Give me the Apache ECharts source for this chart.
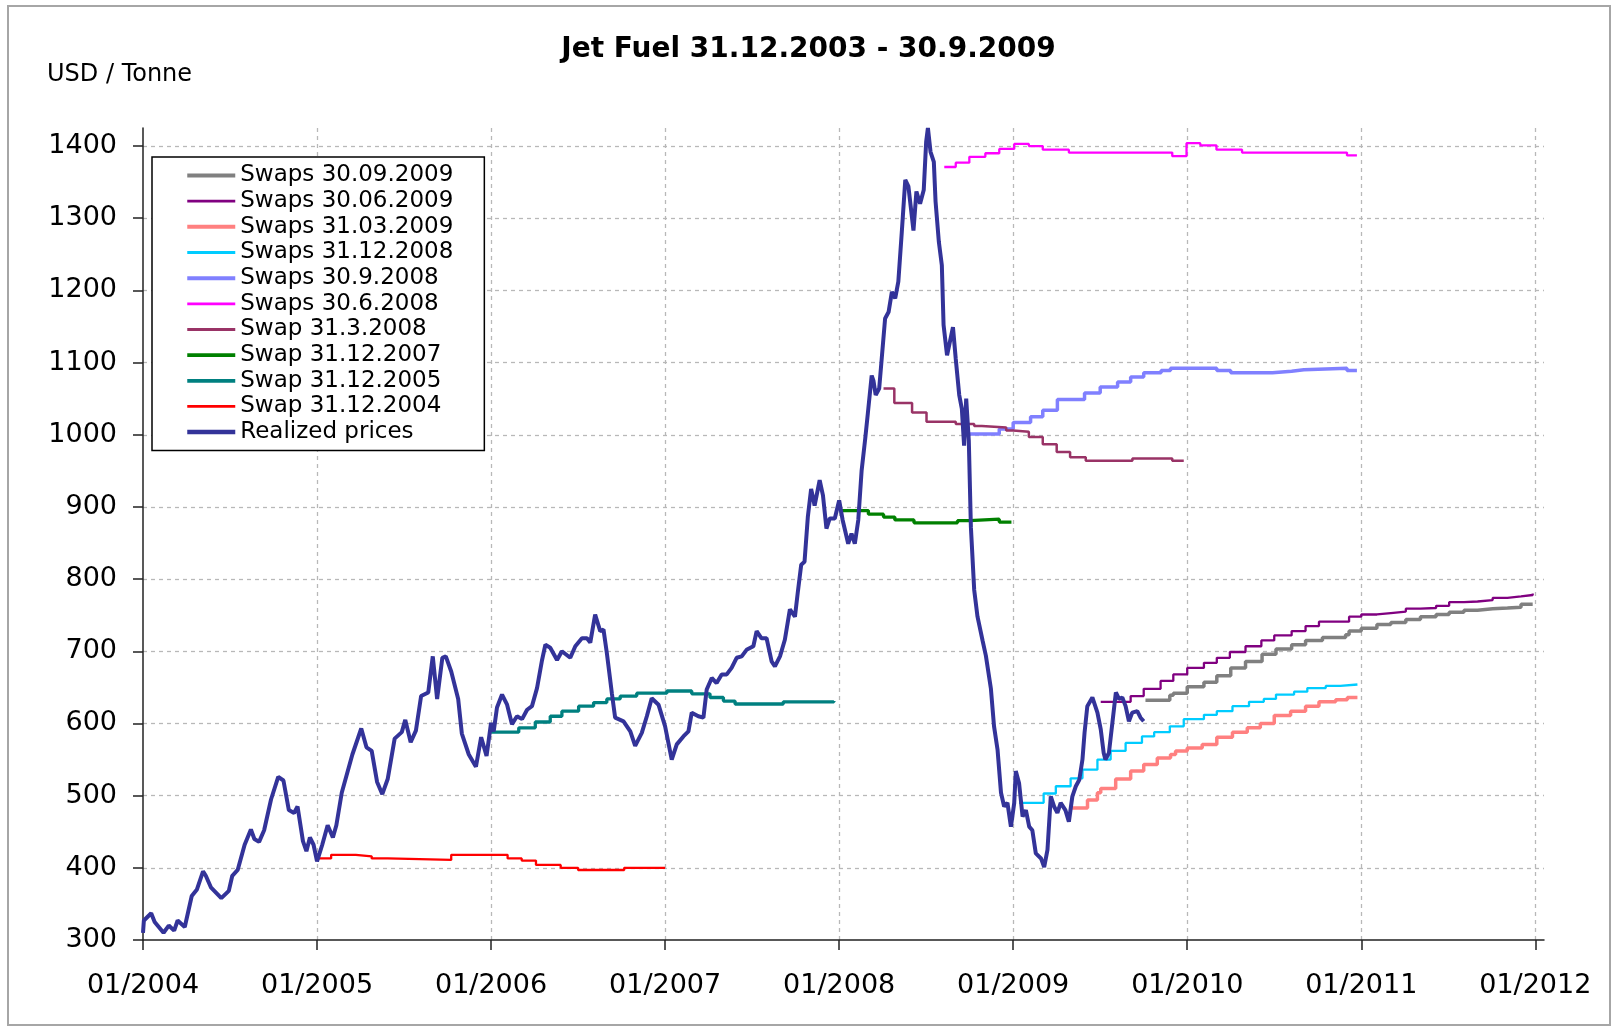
<!DOCTYPE html>
<html>
<head>
<meta charset="utf-8">
<title>Jet Fuel 31.12.2003 - 30.9.2009</title>
<script src="https://cdn.jsdelivr.net/npm/echarts@6.0.0/dist/echarts.min.js"></script>
<style>
  html, body { margin: 0; padding: 0; background: #fff; }
  #chart { width: 1617px; height: 1027px; }
</style>
</head>
<body>
<div id="chart"></div>
<script>
// x values are decimal years (2004.5 = mid 2004), y values USD / tonne
const yearTicks = [2004, 2005, 2006, 2007, 2008, 2009, 2010, 2011, 2012];
const priceTicks = [300, 400, 500, 600, 700, 800, 900, 1000, 1100, 1200, 1300, 1400];

const realizedPrices = [
  [2004.0, 310], [2004.005, 327], [2004.047, 337], [2004.067, 325], [2004.118, 310], [2004.148, 320],
  [2004.179, 313], [2004.199, 327], [2004.24, 318], [2004.28, 361], [2004.31, 370], [2004.345, 395],
  [2004.361, 389], [2004.39, 373], [2004.45, 358], [2004.493, 368], [2004.513, 389], [2004.544, 397],
  [2004.584, 432], [2004.62, 453], [2004.64, 440], [2004.667, 436], [2004.696, 452], [2004.736, 495],
  [2004.777, 526], [2004.807, 521], [2004.838, 480], [2004.868, 476], [2004.888, 485], [2004.919, 437],
  [2004.939, 423], [2004.959, 442], [2004.98, 432], [2005.0, 409], [2005.03, 432], [2005.061, 459],
  [2005.091, 442], [2005.111, 459], [2005.142, 504], [2005.203, 557], [2005.254, 593], [2005.284, 567],
  [2005.314, 562], [2005.345, 519], [2005.375, 502], [2005.406, 523], [2005.446, 579], [2005.487, 588],
  [2005.507, 605], [2005.538, 574], [2005.568, 590], [2005.598, 638], [2005.639, 643], [2005.665, 693],
  [2005.69, 634], [2005.72, 691], [2005.74, 693], [2005.771, 672], [2005.811, 634], [2005.832, 586],
  [2005.872, 557], [2005.913, 540], [2005.943, 581], [2005.974, 555], [2006.0, 601], [2006.015, 589],
  [2006.034, 622], [2006.063, 640], [2006.092, 626], [2006.12, 599], [2006.149, 610], [2006.178, 606],
  [2006.207, 619], [2006.235, 624], [2006.264, 649], [2006.293, 688], [2006.312, 709], [2006.34, 705],
  [2006.379, 688], [2006.407, 700], [2006.455, 691], [2006.484, 707], [2006.522, 718], [2006.551, 718],
  [2006.57, 712], [2006.598, 751], [2006.627, 728], [2006.646, 730], [2006.665, 698], [2006.694, 642],
  [2006.713, 608], [2006.761, 603], [2006.8, 589], [2006.828, 569], [2006.866, 587], [2006.895, 610],
  [2006.923, 635], [2006.962, 626], [2007.0, 596], [2007.038, 550], [2007.067, 571], [2007.105, 582],
  [2007.134, 589], [2007.153, 615], [2007.191, 610], [2007.22, 608], [2007.239, 647], [2007.268, 663],
  [2007.296, 656], [2007.325, 668], [2007.354, 668], [2007.382, 677], [2007.411, 691], [2007.44, 693],
  [2007.468, 702], [2007.507, 707], [2007.526, 728], [2007.554, 718], [2007.583, 718], [2007.612, 686],
  [2007.631, 679], [2007.66, 693], [2007.688, 716], [2007.717, 758], [2007.746, 748], [2007.763, 783],
  [2007.782, 820], [2007.801, 824], [2007.82, 886], [2007.839, 925], [2007.859, 902], [2007.888, 937],
  [2007.907, 916], [2007.927, 870], [2007.946, 884], [2007.975, 884], [2008.0, 909], [2008.02, 882],
  [2008.052, 849], [2008.071, 863], [2008.09, 849], [2008.11, 882], [2008.129, 950], [2008.15, 995],
  [2008.165, 1030], [2008.187, 1082], [2008.197, 1075], [2008.21, 1055], [2008.23, 1064], [2008.264, 1161],
  [2008.284, 1170], [2008.303, 1198], [2008.322, 1189], [2008.34, 1212], [2008.36, 1281], [2008.38, 1353],
  [2008.398, 1344], [2008.427, 1283], [2008.444, 1337], [2008.465, 1320], [2008.486, 1339], [2008.5, 1406],
  [2008.51, 1425], [2008.525, 1392], [2008.544, 1378], [2008.554, 1323], [2008.573, 1267], [2008.59, 1235],
  [2008.6, 1152], [2008.62, 1110], [2008.654, 1149], [2008.67, 1105], [2008.69, 1055], [2008.705, 1036],
  [2008.718, 985], [2008.73, 1050], [2008.745, 992], [2008.757, 872], [2008.776, 785], [2008.795, 748],
  [2008.824, 715], [2008.843, 694], [2008.872, 648], [2008.89, 596], [2008.91, 564], [2008.93, 504],
  [2008.948, 485], [2008.967, 490], [2008.987, 457], [2009.006, 490], [2009.015, 534], [2009.034, 517],
  [2009.054, 471], [2009.073, 480], [2009.092, 457], [2009.11, 452], [2009.13, 420], [2009.16, 413],
  [2009.178, 401], [2009.197, 425], [2009.216, 499], [2009.235, 485], [2009.254, 476], [2009.273, 490],
  [2009.3, 480], [2009.32, 464], [2009.34, 499], [2009.36, 513], [2009.38, 522], [2009.398, 550],
  [2009.41, 587], [2009.426, 624], [2009.455, 636], [2009.484, 615], [2009.503, 592], [2009.52, 559],
  [2009.53, 550], [2009.55, 559], [2009.57, 601], [2009.59, 643], [2009.608, 634], [2009.627, 636],
  [2009.646, 624], [2009.665, 603], [2009.684, 615], [2009.713, 617], [2009.732, 608], [2009.75, 603]
];

// swap curves: start of each step and its level, last pair is the end of the curve
const swap20041231 = [
  [2005.0, 413], [2005.081, 418], [2005.223, 416], [2005.314, 413], [2005.406, 411], [2005.771, 418],
  [2006.095, 413], [2006.176, 410], [2006.258, 404], [2006.4, 400], [2006.5, 397], [2006.765, 400],
  [2007.0, 400]
];
const swap20051231 = [
  [2006.0, 588], [2006.159, 594], [2006.254, 602], [2006.34, 610], [2006.407, 617], [2006.503, 624],
  [2006.589, 629], [2006.665, 634], [2006.742, 638], [2006.837, 642], [2007.01, 645], [2007.153, 641],
  [2007.258, 636], [2007.335, 631], [2007.402, 627], [2007.679, 630], [2007.97, 631]
];
const swap20071231 = [
  [2008.0, 895], [2008.168, 890], [2008.255, 886], [2008.32, 882], [2008.43, 878], [2008.68, 881],
  [2008.75, 883], [2008.92, 879], [2008.99, 879]
];
const swap20080331 = [
  [2008.255, 1064], [2008.317, 1044], [2008.419, 1031], [2008.502, 1018], [2008.67, 1015], [2008.776, 1012],
  [2008.82, 1010], [2008.96, 1006], [2009.0, 1004], [2009.09, 997], [2009.17, 987], [2009.25, 976],
  [2009.327, 969], [2009.417, 964], [2009.685, 967], [2009.914, 964], [2009.98, 964]
];
const swaps20080630 = [
  [2008.604, 1371], [2008.67, 1377], [2008.748, 1385], [2008.84, 1390], [2008.92, 1396], [2009.006, 1403],
  [2009.09, 1400], [2009.17, 1395], [2009.32, 1391], [2009.914, 1386], [2009.996, 1404], [2010.075, 1401],
  [2010.168, 1395], [2010.315, 1391], [2010.918, 1387], [2010.975, 1387]
];
const swaps20080930 = [
  [2008.748, 1001], [2008.92, 1008], [2009.0, 1017], [2009.1, 1025], [2009.17, 1034], [2009.254, 1049],
  [2009.41, 1058], [2009.5, 1066], [2009.6, 1073], [2009.675, 1080], [2009.75, 1086], [2009.85, 1089],
  [2009.904, 1092], [2010.17, 1089], [2010.25, 1086], [2010.49, 1088], [2010.6, 1090], [2010.67, 1092],
  [2010.918, 1089], [2010.975, 1089]
];
const swaps20081231 = [
  [2009.034, 490], [2009.175, 503], [2009.245, 513], [2009.33, 524], [2009.398, 536], [2009.484, 550],
  [2009.56, 562], [2009.646, 573], [2009.74, 582], [2009.81, 588], [2009.9, 596], [2009.98, 606],
  [2010.096, 612], [2010.17, 617], [2010.26, 624], [2010.355, 630], [2010.44, 634], [2010.51, 640],
  [2010.614, 644], [2010.69, 649], [2010.796, 652], [2010.88, 654], [2010.978, 654]
];
const swaps20090331 = [
  [2009.33, 483], [2009.427, 494], [2009.484, 504], [2009.503, 510], [2009.589, 523], [2009.675, 534],
  [2009.75, 543], [2009.828, 552], [2009.904, 557], [2009.933, 562], [2010.0, 566], [2010.086, 571],
  [2010.17, 581], [2010.26, 588], [2010.345, 594], [2010.42, 600], [2010.5, 611], [2010.594, 617],
  [2010.68, 624], [2010.757, 630], [2010.853, 633], [2010.92, 636], [2010.978, 636]
];
const swaps20090630 = [
  [2009.503, 630], [2009.675, 638], [2009.75, 648], [2009.847, 659], [2009.92, 668], [2010.0, 677],
  [2010.096, 684], [2010.17, 691], [2010.245, 699], [2010.335, 707], [2010.426, 715], [2010.5, 722],
  [2010.6, 728], [2010.68, 735], [2010.757, 741], [2010.93, 748], [2011.0, 751], [2011.09, 753],
  [2011.17, 755], [2011.256, 759], [2011.34, 760], [2011.43, 763], [2011.505, 768], [2011.59, 769],
  [2011.668, 771], [2011.755, 774], [2011.84, 776], [2011.918, 778], [2011.985, 780]
];
const swaps20090930 = [
  [2009.76, 632], [2009.9, 639], [2009.92, 642], [2010.0, 651], [2010.096, 657], [2010.17, 666],
  [2010.25, 677], [2010.335, 686], [2010.43, 696], [2010.51, 703], [2010.6, 709], [2010.68, 715],
  [2010.777, 719], [2010.91, 723], [2010.93, 728], [2011.0, 732], [2011.09, 737], [2011.17, 740],
  [2011.256, 744], [2011.34, 748], [2011.43, 751], [2011.505, 754], [2011.59, 757], [2011.668, 759],
  [2011.755, 760], [2011.84, 761], [2011.918, 765], [2011.985, 765]
];

const font = "DejaVu Sans";

function swapSeries(name, data, color, width) {
  return {
    name: name,
    type: "line",
    data: data,
    step: "end",
    symbol: "none",
    lineStyle: { color: color, width: width },
    itemStyle: { color: color },
  };
}

const series = [
  swapSeries("Swaps 30.09.2009", swaps20090930, "#808080", 3.5),
  swapSeries("Swaps 30.06.2009", swaps20090630, "#800080", 2.3),
  swapSeries("Swaps 31.03.2009", swaps20090331, "#FF8080", 3.5),
  swapSeries("Swaps 31.12.2008", swaps20081231, "#00CCFF", 2.3),
  swapSeries("Swaps 30.9.2008", swaps20080930, "#8080FF", 3.5),
  swapSeries("Swaps 30.6.2008", swaps20080630, "#FF00FF", 2.3),
  swapSeries("Swap 31.3.2008", swap20080331, "#993366", 2.5),
  swapSeries("Swap 31.12.2007", swap20071231, "#008000", 3.3),
  swapSeries("Swap 31.12.2005", swap20051231, "#008080", 3.3),
  swapSeries("Swap 31.12.2004", swap20041231, "#FF0000", 2.3),
  {
    name: "Realized prices",
    type: "line",
    data: realizedPrices,
    symbol: "none",
    lineStyle: { color: "#333399", width: 4 },
    itemStyle: { color: "#333399" },
  },
];

// legend keys drawn as thick as the lines in the plot
const legendItems = series.map((s) => ({
  name: s.name,
  lineStyle: { width: s.lineStyle.width + 0.5 },
}));

const axisFont = { fontFamily: font, fontSize: 27, color: "#000" };
const gridLine = { show: true, showMinLine: false, lineStyle: { color: "#b8b8b8", type: [4, 4], width: 1.3 } };

const chart = echarts.init(document.getElementById("chart"));
chart.setOption({
  animation: false,
  backgroundColor: "#fff",
  title: [
    {
      text: "Jet Fuel 31.12.2003 - 30.9.2009",
      left: "center",
      top: 36,
      padding: 0,
      textStyle: { fontFamily: font, fontSize: 28, fontWeight: "bold", color: "#000" },
    },
    {
      text: "USD / Tonne",
      left: 47,
      top: 63,
      padding: 0,
      textStyle: { fontFamily: font, fontSize: 24, fontWeight: "normal", color: "#000" },
    },
  ],
  legend: {
    data: legendItems,
    orient: "vertical",
    left: 152,
    top: 157,
    padding: [7, 31, 7, 33],
    itemWidth: 48,
    itemHeight: 12,
    itemGap: 2.66,
    itemStyle: { opacity: 0 },
    borderColor: "#000",
    borderWidth: 1.5,
    backgroundColor: "#fff",
    textStyle: { fontFamily: font, fontSize: 23, lineHeight: 23, color: "#000" },
  },
  grid: { left: 143, right: 73, top: 128, bottom: 87 },
  xAxis: {
    type: "value",
    min: 2004,
    max: 2012.05,
    interval: 1,
    axisLine: { lineStyle: { color: "#222", width: 1.5 } },
    axisTick: { length: 10, lineStyle: { color: "#222", width: 1.5 }, customValues: yearTicks },
    axisLabel: Object.assign({
      customValues: yearTicks,
      margin: 32,
      formatter: (v) => "01/" + v,
    }, axisFont),
    splitLine: gridLine,
  },
  yAxis: {
    type: "value",
    min: 300,
    max: 1425,
    interval: 100,
    axisLine: { show: true, lineStyle: { color: "#222", width: 1.5 } },
    axisTick: { show: true, length: 10, lineStyle: { color: "#222", width: 1.5 }, customValues: priceTicks },
    axisLabel: Object.assign({
      customValues: priceTicks,
      margin: 26,
      formatter: (v) => String(v),
    }, axisFont),
    splitLine: gridLine,
  },
  graphic: [
    {
      type: "rect",
      silent: true,
      z: -1,
      shape: { x: 8, y: 6, width: 1602, height: 1019 },
      style: { fill: "none", stroke: "#a6a6a6", lineWidth: 2 },
    },
  ],
  series: series,
});
</script>
</body>
</html>
